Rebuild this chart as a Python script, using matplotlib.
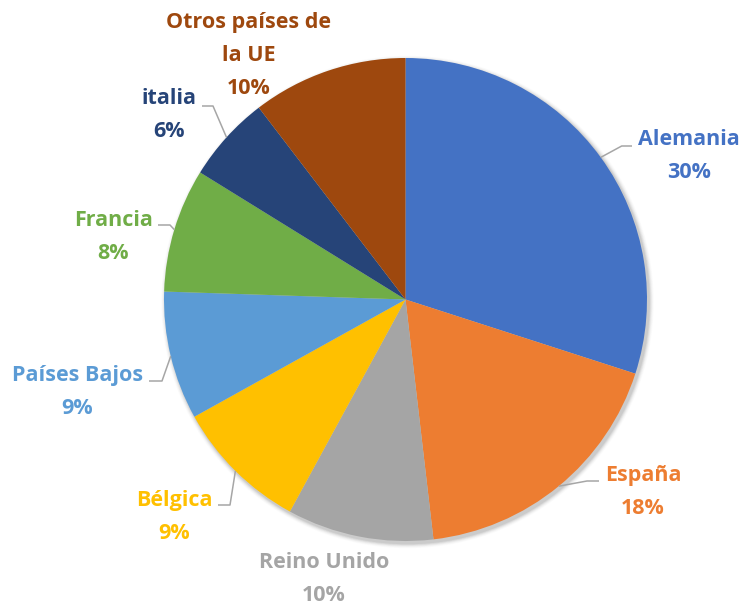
import matplotlib
matplotlib.use("Agg")
import matplotlib.pyplot as plt
import numpy as np
from matplotlib.patches import Circle

# ---- data ----
categories = ["Alemania", "España", "Reino Unido", "Bélgica", "Países Bajos",
              "Francia", "italia", "Otros países de\nla UE"]
shares = [30.0, 18.2, 9.8, 9.0, 8.6, 8.3, 5.8, 10.4]
colors = ["#4472C4", "#ED7D31", "#A5A5A5", "#FFC000", "#5B9BD5",
          "#70AD47", "#264478", "#9E480E"]
text_colors = ["#4472C4", "#ED7D31", "#A5A5A5", "#FFC000", "#5B9BD5",
               "#70AD47", "#264478", "#9E480E"]

# ---- layout (pixel coordinates, y downward) ----
W, H = 743, 605
cx, cy, R = 405.5, 299.5, 241.5
# (center x, first baseline y, elbow point, end of horizontal leader) ; None -> no leader
layout = [
    (689, 145, (621.7, 146), (632, 146)),
    (643, 481, (587, 481), (599, 481)),
    (324, 568, None, None),
    (174, 506, (230, 505), (218, 505)),
    (77.5, 381, (162, 381), (149, 381)),
    (113.5, 226, (170, 225), (158, 225)),
    (169, 104, (213, 106), (202, 106)),
    (249, 28, None, None),
]
line_step = 33

def Y(y):
    return H - y

fig = plt.figure(figsize=(W / 100, H / 100), dpi=100)
ax = fig.add_axes([0, 0, 1, 1])

# soft shadow
for k, a in zip(range(6, 0, -1), [0.015, 0.02, 0.03, 0.04, 0.05, 0.06]):
    ax.add_patch(Circle((cx + 2, Y(cy) - 2.5), R + k * 0.8, color="black", alpha=a,
                        lw=0, zorder=0))

wedges, _ = ax.pie(shares, colors=colors, startangle=90, counterclock=False,
                   radius=R, center=(cx, Y(cy)),
                   wedgeprops=dict(linewidth=0))
for w in wedges:
    w.set_zorder(2)

ax.set_xlim(0, W)
ax.set_ylim(0, H)
ax.set_aspect("equal")
ax.set_axis_off()

total = sum(shares)
font = dict(family=["Open Sans", "DejaVu Sans"], fontsize=15.5, fontweight="bold")
leader_color = "#A6A6A6"

for w, name, val, tc, lay in zip(wedges, categories, shares, text_colors, layout):
    x0, b0, elbow, hend = lay
    lines = name.split("\n") + [f"{val / total * 100:.0f}%"]
    for i, s in enumerate(lines):
        ax.text(x0, Y(b0 + i * line_step), s, ha="center", va="baseline",
                color=tc, zorder=5, **font)
    if elbow is not None:
        mid = np.deg2rad((w.theta1 + w.theta2) / 2)
        sx = cx + R * np.cos(mid)
        sy = Y(cy) + R * np.sin(mid)
        ax.plot([sx, elbow[0], hend[0]], [sy, Y(elbow[1]), Y(hend[1])],
                color=leader_color, lw=1.1, zorder=4, solid_capstyle="butt")

fig.savefig("out.png", dpi=100, facecolor="white")
